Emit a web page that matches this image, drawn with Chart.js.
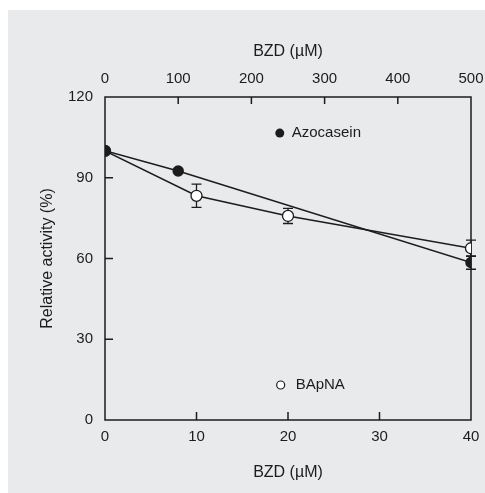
<!DOCTYPE html>
<html>
<head>
<meta charset="utf-8">
<script src="https://cdn.jsdelivr.net/npm/chart.js@4"></script>
<style>
  html, body { margin: 0; padding: 0; background: #fff; }
  #box { width: 485px; height: 493px; }
</style>
</head>
<body>
<div id="box"><canvas id="myChart" width="485" height="493"></canvas></div>
<script>
// data
var azoX = [0, 8, 40];
var azoY = [100, 92.5, 58.5];
var azoErr = [0, 0, 2.5];
var bapX = [0, 10, 20, 40];
var bapY = [100, 83.3, 75.8, 63.8];
var bapErr = [0, 4.3, 2.8, 3];
var yTicks = [0, 30, 60, 90, 120];
var xTicks = [0, 10, 20, 30, 40];
var topTicks = [0, 100, 200, 300, 400, 500];

var ink = "#1c1c1c";
var font = "'Liberation Sans', Arial, sans-serif";

function pts(xs, ys) {
  return xs.map(function (x, i) { return { x: x, y: ys[i] }; });
}

// background, frame, inward ticks, error bars and labels
var decor = {
  id: "decor",
  beforeDraw: function (chart) {
    var c = chart.ctx;
    c.save();
    c.fillStyle = "#e9eaec";
    c.fillRect(8, 10, 477, 483);
    c.restore();
  },
  beforeDatasetsDraw: function (chart) {
    var c = chart.ctx, a = chart.chartArea, s = chart.scales;
    c.save();
    c.strokeStyle = ink;
    c.lineWidth = 1.5;
    c.strokeRect(a.left, a.top, a.right - a.left, a.bottom - a.top);
    c.beginPath();
    xTicks.slice(1, -1).forEach(function (v) {
      var px = s.x.getPixelForValue(v);
      c.moveTo(px, a.bottom); c.lineTo(px, a.bottom - 8);
    });
    topTicks.slice(1, -1).forEach(function (v) {
      var px = s.x2.getPixelForValue(v);
      c.moveTo(px, a.top); c.lineTo(px, a.top + 7);
    });
    yTicks.slice(1, -1).forEach(function (v) {
      var py = s.y.getPixelForValue(v);
      c.moveTo(a.left, py); c.lineTo(a.left + 8, py);
    });
    c.stroke();
    // error bars
    c.lineWidth = 1.3;
    function bars(xs, ys, es) {
      xs.forEach(function (x, i) {
        if (!es[i]) return;
        var px = s.x.getPixelForValue(x);
        var p1 = s.y.getPixelForValue(ys[i] + es[i]);
        var p2 = s.y.getPixelForValue(ys[i] - es[i]);
        c.beginPath();
        c.moveTo(px, p1); c.lineTo(px, p2);
        c.moveTo(px - 5, p1); c.lineTo(px + 5, p1);
        c.moveTo(px - 5, p2); c.lineTo(px + 5, p2);
        c.stroke();
      });
    }
    bars(bapX, bapY, bapErr);
    bars(azoX, azoY, azoErr);
    c.restore();
  },
  afterDraw: function (chart) {
    var c = chart.ctx, s = chart.scales;
    c.save();
    c.font = "15px " + font;
    c.textBaseline = "middle";
    c.fillStyle = ink;
    c.strokeStyle = ink;
    c.lineWidth = 1.2;
    var ax = s.x.getPixelForValue(19.1), ay = s.y.getPixelForValue(106.6);
    c.beginPath(); c.arc(ax, ay, 4.5, 0, Math.PI * 2); c.fill();
    c.fillText("Azocasein", ax + 12, ay);
    var bx = s.x.getPixelForValue(19.2), by = s.y.getPixelForValue(13);
    c.fillStyle = "#fff";
    c.beginPath(); c.arc(bx, by, 4, 0, Math.PI * 2); c.fill(); c.stroke();
    c.fillStyle = ink;
    c.fillText("BApNA", bx + 15, by);
    c.restore();
  }
};

var tickFont = { family: font, size: 15 };
var titleFont = { family: font, size: 16 };

new Chart(document.getElementById("myChart"), {
  type: "line",
  data: {
    datasets: [
      {
        label: "BApNA",
        data: pts(bapX, bapY),
        borderColor: ink,
        borderWidth: 1.5,
        pointBackgroundColor: "#fff",
        pointBorderColor: ink,
        pointBorderWidth: 1.3,
        pointRadius: 5.5,
        order: 2
      },
      {
        label: "Azocasein",
        data: pts(azoX, azoY),
        borderColor: ink,
        borderWidth: 1.5,
        pointBackgroundColor: ink,
        pointBorderColor: ink,
        pointRadius: 5,
        order: 1
      }
    ]
  },
  options: {
    responsive: false,
    animation: false,
    layout: { padding: { left: 30, right: 14, top: 30, bottom: 10 } },
    plugins: { legend: { display: false }, tooltip: { enabled: false } },
    scales: {
      x: {
        type: "linear", position: "bottom", min: 0, max: 40,
        afterBuildTicks: function (sc) { sc.ticks = xTicks.map(function (v) { return { value: v }; }); },
        ticks: { color: ink, font: tickFont, padding: 8, maxRotation: 0 },
        grid: { display: false, drawTicks: false },
        border: { display: false },
        title: { display: true, text: "BZD (µM)", color: ink, font: titleFont, padding: { top: 14, bottom: 1 } },
        afterFit: function (sc) { sc.height = 63; sc.paddingLeft = 0; sc.paddingRight = 0; }
      },
      x2: {
        type: "linear", position: "top", min: 0, max: 500,
        afterBuildTicks: function (sc) { sc.ticks = topTicks.map(function (v) { return { value: v }; }); },
        ticks: { color: ink, font: tickFont, padding: 9, maxRotation: 0 },
        grid: { display: false, drawTicks: false },
        border: { display: false },
        title: { display: true, text: "BZD (µM)", color: ink, font: titleFont, padding: { top: 12, bottom: 8 } },
        afterFit: function (sc) { sc.height = 67; sc.paddingLeft = 0; sc.paddingRight = 0; }
      },
      y: {
        type: "linear", position: "left", min: 0, max: 120,
        afterBuildTicks: function (sc) { sc.ticks = yTicks.map(function (v) { return { value: v }; }); },
        ticks: { color: ink, font: tickFont, padding: 12 },
        grid: { display: false, drawTicks: false },
        border: { display: false },
        title: { display: true, text: "Relative activity (%)", color: ink, font: titleFont, padding: { top: 8, bottom: 4 } },
        afterFit: function (sc) { sc.width = 75; }
      }
    }
  },
  plugins: [decor]
});
</script>
</body>
</html>
